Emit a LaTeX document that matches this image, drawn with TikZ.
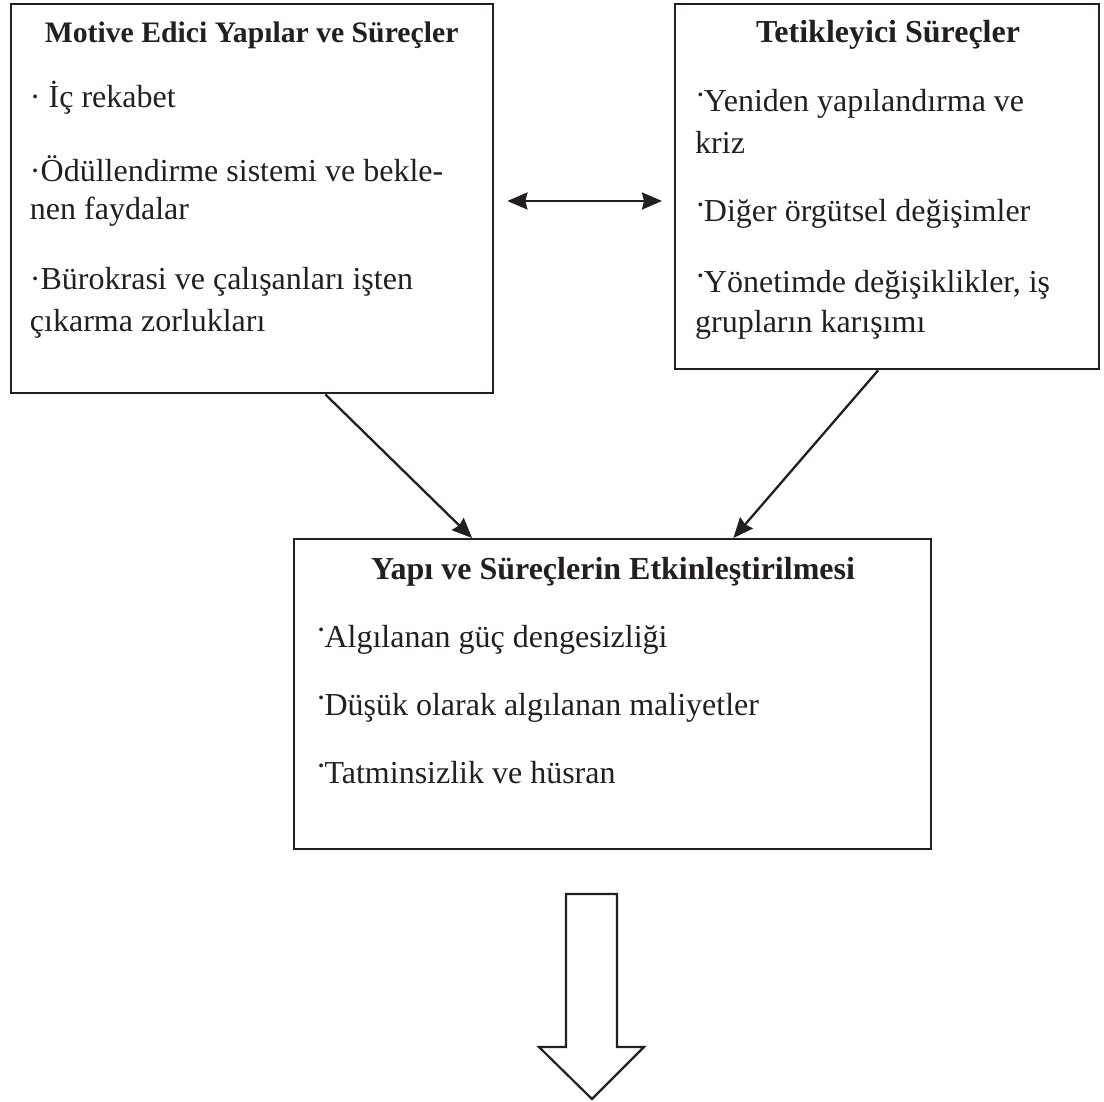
\documentclass[tikz,border=0pt]{standalone}
\usepackage{fontspec}
\setmainfont{Liberation Serif}
\usetikzlibrary{arrows.meta,calc}
\definecolor{ink}{HTML}{231F20}
\begin{document}
\begin{tikzpicture}[x=1pt,y=-1pt,
  frame/.style={draw=ink,line width=2.4pt,inner sep=0pt,anchor=north west},
  ttl/.style={anchor=base,inner sep=0pt,text=ink,font=\bfseries\fontsize{#1}{#1}\selectfont},
  item/.style={anchor=base west,inner sep=0pt,text=ink,font=\fontsize{32}{38}\selectfont},
  tipshape/.tip={Stealth[length=20pt,width=17pt,inset=2pt]},
  conn/.style={draw=ink,line width=2.3pt,-tipshape},
  dconn/.style={draw=ink,line width=2.3pt,tipshape-tipshape},
  blockarrow/.style={draw=ink,line width=2.2pt,line join=miter}]
\newcommand{\hdot}{\raisebox{.2em}{·}\kern-.06em}
\useasboundingbox (0,0) rectangle (1104,1102);
% boxes
\node[frame,minimum width=482pt,minimum height=389pt] (b1) at (10,3) {};
\node[frame,minimum width=424.3pt,minimum height=365pt] (b2) at (673.7,3) {};
\node[frame,minimum width=637.4pt,minimum height=310pt] (b3) at (292.6,538) {};
% box 1 text
\node[ttl=29.7] (t1) at (251.6,43) {Motive Edici Yapılar ve Süreçler};
\node[item] (a1) at (29.8,108) {· İç rekabet};
\node[item] (a2) at (29.8,182) {·Ödüllendirme sistemi ve bekle-};
\node[item] (a3) at (29.8,220) {nen faydalar};
\node[item] (a4) at (29.8,290) {·Bürokrasi ve çalışanları işten};
\node[item] (a5) at (29.8,332) {çıkarma zorlukları};
% box 2 text
\node[ttl=32] (t2) at (888,43) {Tetikleyici Süreçler};
\node[item] (c1) at (695,112) {\hdot Yeniden yapılandırma ve};
\node[item] (c2) at (695,154) {kriz};
\node[item] (c3) at (695,222) {\hdot Diğer örgütsel değişimler};
\node[item] (c4) at (695,293) {\hdot Yönetimde değişiklikler, iş};
\node[item] (c5) at (695,333) {grupların karışımı};
% box 3 text
\node[ttl=32] (t3) at (613,579) {Yapı ve Süreçlerin Etkinleştirilmesi};
\node[item] (d1) at (315.6,647) {\hdot Algılanan güç dengesizliği};
\node[item] (d2) at (315.6,715) {\hdot Düşük olarak algılanan maliyetler};
\node[item] (d3) at (315.6,783) {\hdot Tatminsizlik ve hüsran};
% connectors
\coordinate (mid) at (0,201);
\draw[dconn] ($(b1.east |- mid)+(13,0)$) -- ($(b2.west |- mid)+(-11.7,0)$);
\draw[conn] ($(b1.south west)!0.651!(b1.south east)$) -- ($(b3.north west)!0.2805!(b3.north east)$);
\draw[conn] ($(b2.south west)!0.479!(b2.south east)$) -- ($(b3.north west)!0.689!(b3.north east)$);
% block arrow
\draw[blockarrow] (566,894) -- (617,894) -- (617,1047) -- (644,1047) -- (592,1099) -- (539,1047) -- (566,1047) -- cycle;
\end{tikzpicture}
\end{document}
